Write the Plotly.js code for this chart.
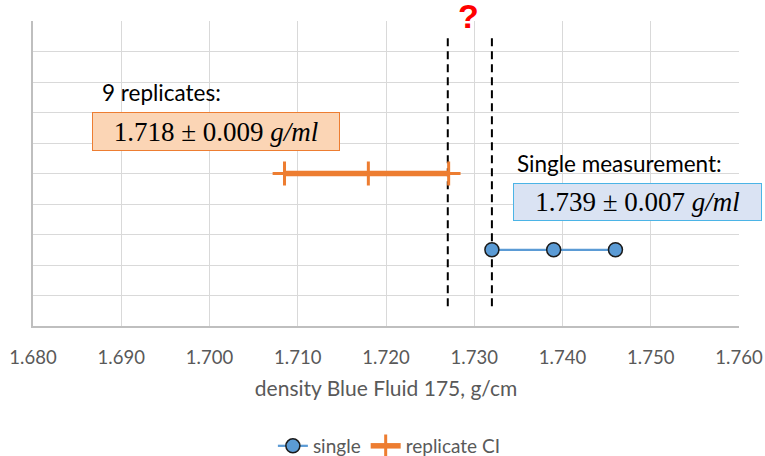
<!DOCTYPE html>
<html>
<head>
<meta charset="utf-8">
<script src="https://cdn.plot.ly/plotly-3.0.1.min.js"></script>
<style>html,body{margin:0;padding:0;background:#fff;}#chart{width:765px;height:456px;}</style>
</head>
<body>
<div id="chart"></div>
<script>
// Data
const singleX = [1.732, 1.739, 1.746];
const singleY = [2.5, 2.5, 2.5];
const replicateX = [1.7085, 1.718, 1.7271];
const replicateY = [5, 5, 5];
const boundLeftX = [1.727, 1.727];
const boundRightX = [1.732, 1.732];
const boundY = [0.65, 9.6];
const xRange = [1.68, 1.76];
const yRange = [0, 10];
const seriesNames = ['single', 'replicate CI'];
const replicateLabel = '9 replicates:';
const replicateValue = '1.718 ± 0.009 <i>g/ml</i>';
const singleLabel = 'Single measurement:';
const singleValue = '1.739 ± 0.007 <i>g/ml</i>';
const xTitle = 'density Blue Fluid 175, g/cm';

const font = 'Lato, "Open Sans", sans-serif';
const mathFont = '"Liberation Serif", "DejaVu Serif", serif';

const traces = [
  {x: boundLeftX, y: boundY, mode: 'lines', showlegend: false, hoverinfo: 'skip',
   line: {color: '#000000', width: 2, dash: '8px,5px'}},
  {x: boundRightX, y: boundY, mode: 'lines', showlegend: false, hoverinfo: 'skip',
   line: {color: '#000000', width: 2, dash: '8px,5px'}},
  {x: singleX, y: singleY, name: seriesNames[0], mode: 'lines+markers',
   line: {color: '#5B9BD5', width: 2.25},
   marker: {symbol: 'circle', size: 14, color: '#5B9BD5', line: {color: '#1a1a1a', width: 1.5}}},
  {x: replicateX, y: replicateY, name: seriesNames[1], mode: 'lines+markers',
   line: {color: '#ED7D31', width: 5.5},
   marker: {symbol: 'cross-thin', size: 17, color: '#ED7D31', line: {color: '#ED7D31', width: 3}}}
];

const layout = {
  width: 765, height: 456,
  margin: {l: 33, r: 26, t: 21, b: 130},
  paper_bgcolor: '#ffffff', plot_bgcolor: '#ffffff',
  font: {family: font, color: '#595959'},
  xaxis: {
    range: xRange, dtick: 0.01, tick0: 1.68, tickformat: '.3f', automargin: false,
    showgrid: true, gridcolor: '#D9D9D9', gridwidth: 1,
    showline: true, linecolor: '#BFBFBF', linewidth: 2,
    zeroline: false, ticks: '', ticklabelstandoff: 14,
    tickfont: {family: font, size: 18.5, color: '#595959'},
    title: {text: xTitle, font: {family: font, size: 21, color: '#595959'}, standoff: 14}
  },
  yaxis: {
    range: yRange, dtick: 1, tick0: 0, automargin: false,
    showgrid: true, gridcolor: '#D9D9D9', gridwidth: 1,
    showline: true, linecolor: '#BFBFBF', linewidth: 2,
    zeroline: false, showticklabels: false, ticks: ''
  },
  showlegend: true,
  legend: {orientation: 'h', xref: 'container', yref: 'container',
           x: 0.509, xanchor: 'center', y: 0.022, yanchor: 'middle',
           font: {family: font, size: 19, color: '#595959'}, itemwidth: 30},
  annotations: [
    {xref: 'x', yref: 'y', x: 1.6876, y: 7.64, xanchor: 'left', yanchor: 'middle',
     text: replicateLabel, showarrow: false, font: {family: font, size: 22.5, color: '#000000'}},
    {xref: 'x', yref: 'y', x: 1.7007, y: 6.38, xanchor: 'center', yanchor: 'middle',
     text: replicateValue, showarrow: false, width: 246, height: 37, borderpad: 0,
     bgcolor: '#FBD5B5', bordercolor: '#ED7D31', borderwidth: 1,
     font: {family: mathFont, size: 27, color: '#000000'}},
    {xref: 'x', yref: 'y', x: 1.7346, y: 5.34, xanchor: 'left', yanchor: 'middle',
     text: singleLabel, showarrow: false, font: {family: font, size: 22.5, color: '#000000'}},
    {xref: 'x', yref: 'y', x: 1.7485, y: 4.066, xanchor: 'center', yanchor: 'middle',
     text: singleValue, showarrow: false, width: 247, height: 36, borderpad: 0,
     bgcolor: '#DAE3F3', bordercolor: '#4BB4E6', borderwidth: 1,
     font: {family: mathFont, size: 27, color: '#000000'}},
    {xref: 'x', yref: 'paper', x: 1.7294, y: 1.0, yshift: 5, xanchor: 'center', yanchor: 'middle',
     text: '?', showarrow: false,
     font: {family: '"Liberation Sans", Arial, sans-serif', size: 34, color: '#FF0000', weight: 'bold'}}
  ]
};

Plotly.newPlot('chart', traces, layout, {displayModeBar: false, staticPlot: true});
</script>
</body>
</html>
